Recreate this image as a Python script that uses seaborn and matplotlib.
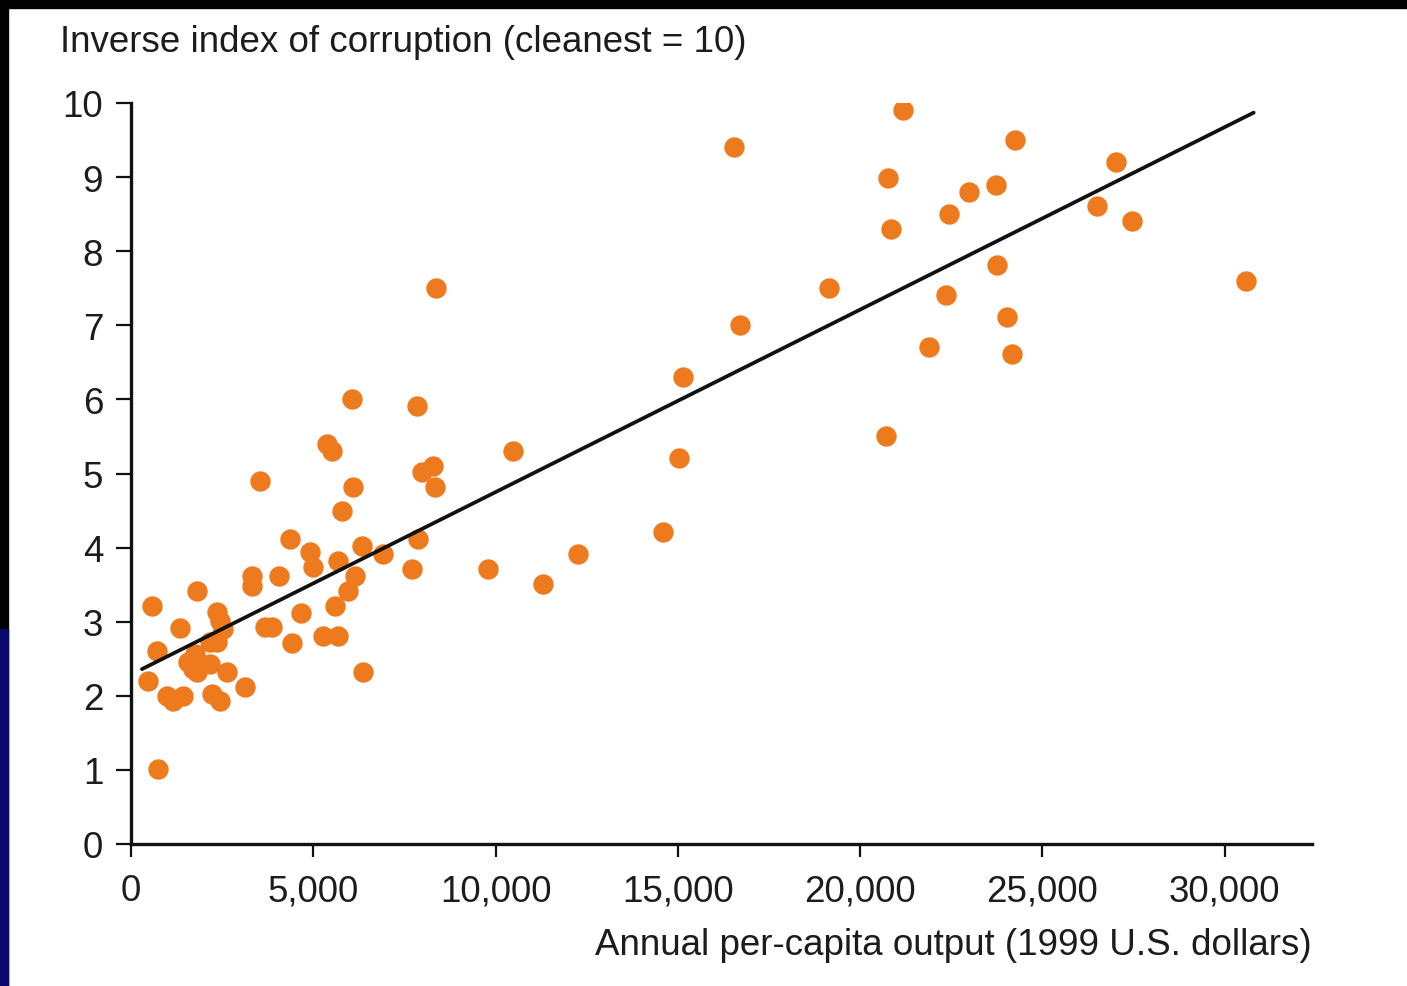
import matplotlib
matplotlib.use("Agg")
import matplotlib.pyplot as plt
import seaborn as sns
import pandas as pd
from matplotlib.patches import Rectangle

# Per-capita output (1999 US$) and inverse corruption index
output_usd = [21190, 16550, 24240, 20780, 27010, 23000, 23720, 20860, 22430, 26490,
              27450, 8370, 19160, 23770, 22370, 30580, 24020, 16720, 21880, 24180,
              15150, 6070, 7850, 20720, 5380, 5520, 10490, 15040, 3540, 7990,
              8290, 6090, 8350, 5790, 14600, 4360, 7880, 4910, 5000, 5680,
              6340, 6920, 12270, 3320, 3320, 4060, 6150, 7710, 9800, 5960,
              11310, 5600, 580, 1810, 2360, 2440, 2530, 4670, 1350, 3680,
              3870, 5270, 5680, 4420, 710, 2170, 2360, 1760, 1560, 1700,
              1810, 2170, 2640, 470, 3130, 990, 1150, 1430, 2220, 2440,
              6370, 740]
clean_index = [9.91, 9.41, 9.50, 8.99, 9.20, 8.80, 8.89, 8.30, 8.50, 8.61,
               8.41, 7.50, 7.50, 7.81, 7.41, 7.60, 7.11, 7.00, 6.71, 6.61,
               6.30, 6.01, 5.91, 5.51, 5.40, 5.30, 5.30, 5.21, 4.90, 5.02,
               5.10, 4.82, 4.82, 4.49, 4.21, 4.12, 4.12, 3.94, 3.74, 3.82,
               4.02, 3.91, 3.91, 3.62, 3.48, 3.62, 3.62, 3.71, 3.71, 3.41,
               3.51, 3.21, 3.21, 3.41, 3.13, 3.01, 2.90, 3.12, 2.91, 2.93,
               2.93, 2.81, 2.81, 2.71, 2.60, 2.73, 2.73, 2.56, 2.46, 2.36,
               2.32, 2.43, 2.32, 2.20, 2.12, 2.00, 1.93, 2.00, 2.02, 1.93,
               2.32, 1.01]

# fitted line endpoints as drawn in the original
fit_x = [300, 30800]
fit_y = [2.36, 9.87]

x_ticks = [0, 5000, 10000, 15000, 20000, 25000, 30000]
x_tick_labels = ["0", "5,000", "10,000", "15,000", "20,000", "25,000", "30,000"]
y_ticks = list(range(0, 11))

df = pd.DataFrame({"output": output_usd, "index": clean_index})
fit = pd.DataFrame({"output": fit_x, "index": fit_y})

sns.set_style("ticks")
plt.rcParams["font.family"] = ["Liberation Sans", "DejaVu Sans"]
text_col = "#1c1c1c"
fsize = 26.5

fig = plt.figure(figsize=(14.07, 9.87), dpi=100)
ax = fig.add_axes([131 / 1407, 142 / 987, (1312 - 131) / 1407, (845 - 104) / 987])

sns.scatterplot(data=df, x="output", y="index", ax=ax, color="#EE7A1E",
                s=215, linewidth=0, zorder=3)
sns.lineplot(data=fit, x="output", y="index", ax=ax, color="#111111",
             linewidth=2.7, zorder=4)

ax.set_xlim(0, 32400)
ax.set_ylim(0, 10)
ax.set_xticks(x_ticks)
ax.set_xticklabels(x_tick_labels)
ax.set_yticks(y_ticks)
ax.set_xlabel("")
ax.set_ylabel("")

for side in ["top", "right"]:
    ax.spines[side].set_visible(False)
for side in ["left", "bottom"]:
    ax.spines[side].set_linewidth(2.4)
    ax.spines[side].set_color("#111111")
    ax.spines[side].set_clip_on(False)

ax.tick_params(axis="y", direction="out", length=11, width=1.6, pad=9,
               labelsize=fsize, colors="#111111", labelcolor=text_col)
ax.tick_params(axis="x", direction="out", length=9, width=1.6, pad=12,
               labelsize=fsize, colors="#111111", labelcolor=text_col)

fig.text(60 / 1407, 1 - 42 / 987, "Inverse index of corruption (cleanest = 10)",
         ha="left", va="center", fontsize=fsize, color=text_col)
fig.text(1312 / 1407, 1 - 946 / 987, "Annual per-capita output (1999 U.S. dollars)",
         ha="right", va="center", fontsize=fsize, color=text_col)

# slide frame: black strip on top and left
fig.patches.append(Rectangle((0, 1 - 9 / 987), 1, 9 / 987, transform=fig.transFigure,
                             color="black", zorder=10))
fig.patches.append(Rectangle((0, 0), 8 / 1407, 1, transform=fig.transFigure,
                             color="black", zorder=10))
fig.patches.append(Rectangle((0, 0), 8 / 1407, 1 - 630 / 987, transform=fig.transFigure,
                             color="#0a0a6e", zorder=11))

fig.savefig("out.png", dpi=100, facecolor="white")
